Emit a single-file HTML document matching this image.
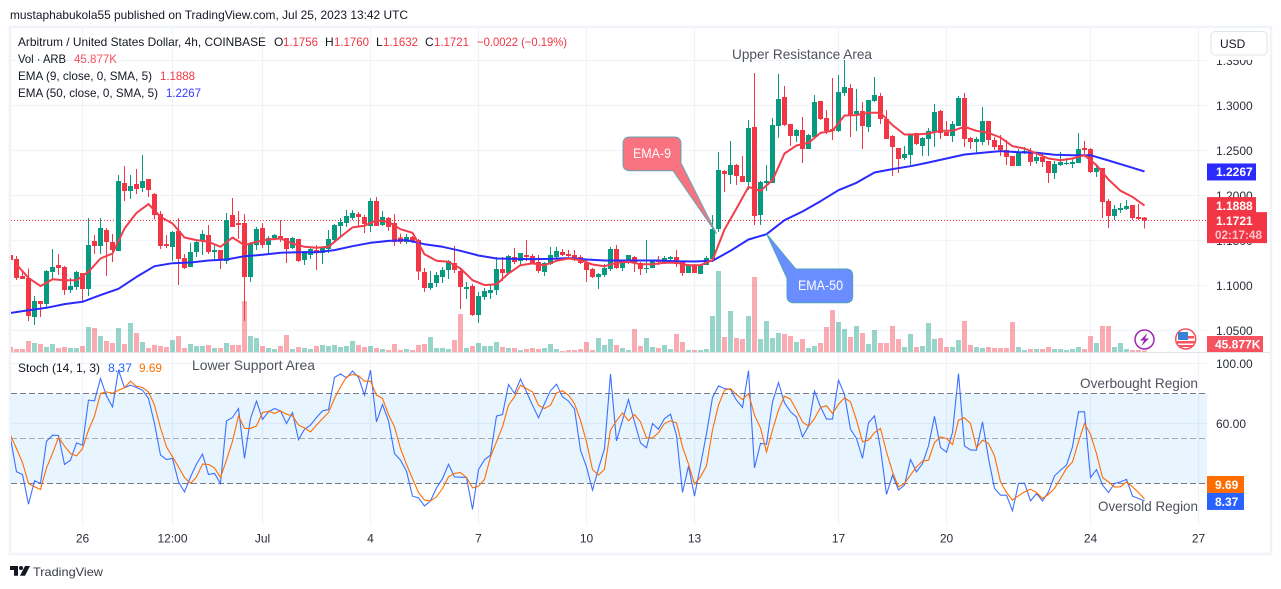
<!DOCTYPE html>
<html lang="en">
<head>
<meta charset="utf-8">
<title>Arbitrum / USD chart</title>
<style>
html,body{margin:0;padding:0;background:#fff;width:1281px;height:589px;overflow:hidden}
svg{display:block;font-family:"Liberation Sans",sans-serif}
text{font-size:12px;fill:#131722}
.note{font-size:14px;fill:#50535e}
.ax{fill:#2a2e39}
.lab{fill:#fff;font-weight:bold}
</style>
</head>
<body>
<svg id="chart" width="1281" height="589" viewBox="0 0 1281 589" xmlns="http://www.w3.org/2000/svg">
  <defs>
    <clipPath id="pricePaneClip"><rect x="11" y="28" width="1196" height="324"/></clipPath>
    <clipPath id="stochPaneClip"><rect x="11" y="353" width="1196" height="173"/></clipPath>
  </defs>
  <text x="10" y="19" textLength="398" lengthAdjust="spacingAndGlyphs">mustaphabukola55 published on TradingView.com, Jul 25, 2023 13:42 UTC</text>
  <rect x="10" y="27" width="1261" height="527" fill="none" stroke="#f0f3fa" stroke-width="2.5"/>
  <g id="gridLayer"></g>
  <g>
    <rect x="11" y="393.5" width="1196" height="90" fill="#2196f3" fill-opacity="0.1"/>
    <line x1="11" x2="1207" y1="393.5" y2="393.5" stroke="#787b86" stroke-dasharray="6 3"/>
    <line x1="11" x2="1207" y1="438.5" y2="438.5" stroke="#a8abb5" stroke-dasharray="6 3"/>
    <line x1="11" x2="1207" y1="483.5" y2="483.5" stroke="#787b86" stroke-dasharray="6 3"/>
  </g>
  <g id="volumeLayer" clip-path="url(#pricePaneClip)" shape-rendering="crispEdges"></g>
  <line x1="11" x2="1207" y1="220.5" y2="220.5" stroke="#f23645" stroke-dasharray="1 2"/>
  <g id="candleLayer" clip-path="url(#pricePaneClip)" shape-rendering="crispEdges"></g>
  <g id="emaLayer" clip-path="url(#pricePaneClip)"></g>
  <g id="stochLayer" clip-path="url(#stochPaneClip)"></g>
  <line x1="11" x2="1270" y1="352.5" y2="352.5" stroke="#e0e3eb"/>

  <g id="priceAxis"></g>
  <g id="stochAxis"></g>
  <g id="timeAxis"></g>

  <g>
    <path d="M630 137 H674 Q681 137 681 144 V163 L716.7 234 L673 170.7 H630 Q623 170.7 623 164 V144 Q623 137 630 137 Z" fill="#f8737f" stroke="#62a6b5" stroke-width="1"/>
    <text x="633" y="158" textLength="38" lengthAdjust="spacingAndGlyphs" style="font-size:14px;fill:#fff">EMA-9</text>
  </g>
  <g>
    <path d="M795.7 269 H846 Q852.7 269 852.7 276 V296 Q852.7 302.7 846 302.7 H794 Q787 302.7 787 296 V278.3 L766.7 234 Z" fill="#6a8dff" stroke="#4da2bf" stroke-width="1"/>
    <text x="798" y="290" textLength="45" lengthAdjust="spacingAndGlyphs" style="font-size:14px;fill:#fff">EMA-50</text>
  </g>

  <text class="note" x="732" y="59" textLength="140" lengthAdjust="spacingAndGlyphs">Upper Resistance Area</text>
  <text class="note" x="192" y="370" textLength="123" lengthAdjust="spacingAndGlyphs">Lower Support Area</text>
  <text class="note" x="1080" y="388" textLength="118" lengthAdjust="spacingAndGlyphs">Overbought Region</text>
  <text class="note" x="1098" y="511" textLength="100" lengthAdjust="spacingAndGlyphs">Oversold Region</text>

  <g>
    <text x="18" y="46" textLength="248" lengthAdjust="spacingAndGlyphs">Arbitrum / United States Dollar, 4h, COINBASE</text>
    <text x="274" y="46">O</text>
    <text x="283" y="46" textLength="35" lengthAdjust="spacingAndGlyphs" style="fill:#f23645">1.1756</text>
    <text x="325" y="46">H</text>
    <text x="334" y="46" textLength="35" lengthAdjust="spacingAndGlyphs" style="fill:#f23645">1.1760</text>
    <text x="376" y="46">L</text>
    <text x="383" y="46" textLength="35" lengthAdjust="spacingAndGlyphs" style="fill:#f23645">1.1632</text>
    <text x="425" y="46">C</text>
    <text x="434" y="46" textLength="35" lengthAdjust="spacingAndGlyphs" style="fill:#f23645">1.1721</text>
    <text x="477" y="46" textLength="90" lengthAdjust="spacingAndGlyphs" style="fill:#f23645">−0.0022 (−0.19%)</text>
    <text x="18" y="63" textLength="48" lengthAdjust="spacingAndGlyphs">Vol · ARB</text>
    <text x="74" y="63" textLength="43" lengthAdjust="spacingAndGlyphs" style="fill:#f7525f">45.877K</text>
    <text x="18" y="80" textLength="134" lengthAdjust="spacingAndGlyphs">EMA (9, close, 0, SMA, 5)</text>
    <text x="160" y="80" textLength="35" lengthAdjust="spacingAndGlyphs" style="fill:#f23645">1.1888</text>
    <text x="18" y="97" textLength="140" lengthAdjust="spacingAndGlyphs">EMA (50, close, 0, SMA, 5)</text>
    <text x="166" y="97" textLength="35" lengthAdjust="spacingAndGlyphs" style="fill:#3838ff">1.2267</text>
  </g>
  <g>
    <text x="18" y="372" textLength="82" lengthAdjust="spacingAndGlyphs">Stoch (14, 1, 3)</text>
    <text x="108" y="372" textLength="24" lengthAdjust="spacingAndGlyphs" style="fill:#2962ff">8.37</text>
    <text x="139" y="372" textLength="23" lengthAdjust="spacingAndGlyphs" style="fill:#ff6d00">9.69</text>
  </g>

  <rect x="1208" y="28" width="61" height="32" fill="#fff"/>
  <g>
    <rect x="1211" y="31.5" width="56" height="23.5" rx="4" fill="#fff" stroke="#e0e3eb"/>
    <text x="1220" y="48">USD</text>
  </g>

  <g>
    <circle cx="1144.5" cy="339.5" r="9.5" fill="#fff" stroke="#9c27b0" stroke-width="1.5"/>
    <path d="M1147.5 333 L1140 340.5 H1144 L1141.5 346 L1149 338.5 H1145 Z" fill="#9c27b0"/>
  </g>
  <g>
    <circle cx="1185.7" cy="339" r="10" fill="#fff" stroke="#f7525f" stroke-width="1.5"/>
    <rect x="1178" y="336" width="16" height="2.5" fill="#f7525f"/>
    <rect x="1177" y="341" width="18" height="2.5" fill="#f7525f"/>
    <rect x="1179" y="345" width="14" height="2" fill="#f7525f"/>
    <rect x="1178" y="332" width="10" height="8" fill="#3b82d6"/>
  </g>

  <g>
    <path d="M10 566 H18 V575.7 H14 V570 H10 Z M25 566 H30 L25 575.7 H20 Z" fill="#131722"/>
    <circle cx="21" cy="568" r="2" fill="#131722"/>
    <text x="33" y="576" textLength="70" lengthAdjust="spacingAndGlyphs" style="fill:#3a3d47">TradingView</text>
  </g>
</svg>
<script>
const priceTicks = [1.35, 1.30, 1.25, 1.20, 1.15, 1.10, 1.05];
const stochTicks = [100, 60];
const timeTickBars = [12, 27, 42, 60, 78, 96, 114, 138, 156, 180, 198];
const timeTickLabels = ["26", "12:00", "Jul", "4", "7", "10", "13", "17", "20", "24", "27"];

const opens = [
1.1337,1.1293,1.1104,1.1085,1.0652,1.0826,1.0796,1.1148,1.1226,1.1204,
1.0948,1.0982,1.1137,1.0959,1.1493,1.1437,1.1615,1.1482,1.1382,1.2137,
1.2048,1.2126,1.2082,1.2182,1.2015,1.1793,1.1459,1.1426,1.1604,1.1304,
1.1204,1.1370,1.1493,1.1559,1.1370,1.1393,1.1274,1.1782,1.1693,1.1693,
1.1093,1.1448,1.1637,1.1448,1.1526,1.1548,1.1526,1.1415,1.1515,1.1282,
1.1337,1.1393,1.1359,1.1404,1.1504,1.1659,1.1693,1.1748,1.1793,1.1759,
1.1659,1.1937,1.1670,1.1748,1.1693,1.1533,1.1482,1.1537,1.1504,1.1148,
1.0970,1.1026,1.1093,1.1170,1.1248,1.1159,1.0959,1.0993,1.0670,1.0870,
1.0915,1.0948,1.1182,1.1137,1.1315,1.1270,1.1337,1.1326,1.1259,1.1148,
1.1237,1.1315,1.1370,1.1348,1.1337,1.1315,1.1248,1.1182,1.1093,1.1115,
1.1182,1.1404,1.1193,1.1248,1.1315,1.1248,1.1193,1.1193,1.1282,1.1248,
1.1293,1.1315,1.1259,1.1137,1.1226,1.1126,1.1226,1.1293,1.1626,1.2270,
1.2226,1.2337,1.2215,1.2148,1.2759,1.1782,1.2137,1.2137,1.2770,1.3093,
1.2793,1.2659,1.2726,1.2515,1.2648,1.3048,1.2859,1.2737,1.2715,1.3137,
1.3193,1.2904,1.2937,1.2759,1.3048,1.3104,1.2848,1.2659,1.2526,1.2415,
1.2448,1.2693,1.2548,1.2626,1.2704,1.2937,1.2704,1.2659,1.2770,1.3082,
1.2637,1.2593,1.2593,1.2826,1.2615,1.2559,1.2504,1.2437,1.2326,1.2470,
1.2492,1.2381,1.2426,1.2381,1.2248,1.2337,1.2352,1.2348,1.2359,1.2526,
1.2515,1.2259,1.2304,1.1937,1.1770,1.1837,1.1848,1.1892,1.1759,1.1756];
const highs = [
1.1356,1.1326,1.1163,1.1189,1.0882,1.0826,1.1170,1.1404,1.1348,1.1215,
1.1082,1.1159,1.1137,1.1748,1.1559,1.1748,1.1637,1.1570,1.2226,1.2326,
1.2226,1.2293,1.2448,1.2182,1.2026,1.1826,1.1559,1.1604,1.1748,1.1348,
1.1470,1.1504,1.1615,1.1670,1.1448,1.1393,1.1804,1.1970,1.1826,1.1793,
1.1482,1.1648,1.1693,1.1548,1.1570,1.1726,1.1526,1.1537,1.1515,1.1382,
1.1415,1.1448,1.1426,1.1615,1.1682,1.1748,1.1837,1.1837,1.1815,1.1782,
1.1970,1.1982,1.1826,1.1759,1.1793,1.1578,1.1570,1.1548,1.1515,1.1193,
1.1159,1.1148,1.1204,1.1282,1.1437,1.1182,1.1037,1.1015,1.0926,1.0970,
1.1004,1.1315,1.1315,1.1337,1.1415,1.1359,1.1504,1.1348,1.1337,1.1259,
1.1426,1.1426,1.1404,1.1393,1.1393,1.1337,1.1282,1.1193,1.1137,1.1237,
1.1426,1.1448,1.1270,1.1337,1.1326,1.1259,1.1504,1.1282,1.1326,1.1326,
1.1326,1.1393,1.1270,1.1237,1.1237,1.1237,1.1326,1.1782,1.2482,1.2282,
1.2604,1.2348,1.2437,1.2837,1.3359,1.2159,1.2337,1.2859,1.3348,1.3215,
1.2793,1.2737,1.2870,1.2682,1.3115,1.3048,1.2948,1.3304,1.3337,1.3504,
1.3237,1.3182,1.3037,1.3059,1.3315,1.3137,1.2948,1.2670,1.2526,1.2548,
1.2682,1.2693,1.2648,1.2748,1.3015,1.2948,1.2826,1.2826,1.3104,1.3137,
1.2648,1.2648,1.2982,1.2826,1.2648,1.2670,1.2615,1.2437,1.2515,1.2537,
1.2526,1.2470,1.2470,1.2381,1.2381,1.2481,1.2415,1.2404,1.2692,1.2604,
1.2526,1.2337,1.2304,1.1959,1.1892,1.1915,1.1948,1.1892,1.1904,1.1760];
const lows = [
1.1141,1.1059,1.1070,1.0607,1.0563,1.0652,1.0745,1.1078,1.1115,1.0893,
1.0919,1.0948,1.0819,1.0885,1.1348,1.1348,1.1104,1.1263,1.1382,1.1937,
1.1959,1.2015,1.2037,1.1985,1.1733,1.1404,1.1415,1.1270,1.1004,1.1182,
1.1204,1.1315,1.1337,1.1348,1.1282,1.1182,1.1237,1.1648,1.1515,1.0604,
1.1037,1.1393,1.1415,1.1337,1.1504,1.1482,1.1248,1.1404,1.1259,1.1226,
1.1293,1.1170,1.1237,1.1359,1.1493,1.1548,1.1648,1.1726,1.1648,1.1582,
1.1593,1.1659,1.1659,1.1604,1.1437,1.1459,1.1459,1.1470,1.1059,1.0926,
1.0948,1.0982,1.1026,1.1070,1.1137,1.0737,1.0848,1.0659,1.0582,1.0837,
1.0848,1.0893,1.1048,1.1137,1.1237,1.1226,1.1270,1.1237,1.1137,1.1104,
1.1226,1.1282,1.1326,1.1315,1.1270,1.1237,1.1037,1.1082,1.0959,1.1093,
1.1159,1.1182,1.1159,1.1237,1.1148,1.1115,1.1137,1.1193,1.1226,1.1237,
1.1248,1.1204,1.1104,1.1137,1.1137,1.1126,1.1226,1.1259,1.1593,1.2037,
1.2126,1.2115,1.2148,1.2059,1.1670,1.1670,1.2048,1.2137,1.2637,1.2770,
1.2548,1.2593,1.2359,1.2515,1.2637,1.2837,1.2682,1.2615,1.2704,1.3104,
1.2648,1.2715,1.2515,1.2704,1.3037,1.2793,1.2626,1.2215,1.2248,1.2393,
1.2337,1.2559,1.2437,1.2437,1.2537,1.2626,1.2659,1.2593,1.2770,1.2537,
1.2515,1.2470,1.2559,1.2559,1.2504,1.2437,1.2337,1.2326,1.2326,1.2459,
1.2326,1.2348,1.2315,1.2137,1.2181,1.2326,1.2337,1.2304,1.2359,1.2426,
1.2248,1.2204,1.1748,1.1637,1.1726,1.1804,1.1837,1.1726,1.1726,1.1632];
const closes = [
1.1282,1.1085,1.1070,1.0663,1.0826,1.0796,1.1159,1.1204,1.1196,1.0948,
1.0993,1.1148,1.0959,1.1448,1.1437,1.1637,1.1482,1.1393,1.2159,1.2048,
1.2104,1.2070,1.2159,1.2059,1.1782,1.1437,1.1437,1.1593,1.1293,1.1193,
1.1370,1.1482,1.1570,1.1370,1.1393,1.1282,1.1726,1.1648,1.1670,1.1093,
1.1470,1.1626,1.1448,1.1526,1.1559,1.1515,1.1404,1.1526,1.1270,1.1382,
1.1404,1.1370,1.1426,1.1515,1.1670,1.1704,1.1770,1.1804,1.1759,1.1682,
1.1937,1.1659,1.1759,1.1648,1.1482,1.1482,1.1537,1.1493,1.1156,1.0970,
1.1026,1.1115,1.1170,1.1270,1.1170,1.0982,1.0982,1.0670,1.0882,1.0937,
1.0948,1.1182,1.1137,1.1326,1.1259,1.1359,1.1315,1.1248,1.1159,1.1248,
1.1337,1.1382,1.1337,1.1326,1.1282,1.1248,1.1170,1.1093,1.1126,1.1193,
1.1404,1.1193,1.1259,1.1337,1.1248,1.1182,1.1196,1.1282,1.1259,1.1304,
1.1315,1.1237,1.1137,1.1226,1.1137,1.1226,1.1304,1.1626,1.2282,1.2237,
1.2337,1.2215,1.2148,1.2748,1.1770,1.2148,1.2159,1.2782,1.3070,1.2782,
1.2659,1.2726,1.2515,1.2670,1.3037,1.2848,1.2715,1.2715,1.3148,1.3204,
1.2893,1.2937,1.2770,1.3059,1.3115,1.2848,1.2626,1.2537,1.2404,1.2459,
1.2682,1.2570,1.2637,1.2715,1.2926,1.2693,1.2659,1.2793,1.3082,1.2626,
1.2593,1.2626,1.2826,1.2615,1.2537,1.2504,1.2426,1.2326,1.2481,1.2492,
1.2370,1.2426,1.2370,1.2248,1.2348,1.2370,1.2363,1.2370,1.2515,1.2504,
1.2259,1.2304,1.1926,1.1770,1.1848,1.1859,1.1881,1.1748,1.1737,1.1721];
const volumesK = [
150,90,90,330,270,240,150,240,120,150,
120,120,180,750,720,480,330,270,720,240,
870,570,300,120,210,180,150,360,480,120,
240,180,180,210,120,120,270,210,210,1530,
480,420,180,120,90,180,510,90,150,120,
90,180,210,180,210,150,180,330,210,150,
180,120,90,60,240,60,90,60,210,240,
450,120,120,90,360,1140,120,180,270,180,
180,300,150,120,120,60,90,120,90,120,
240,90,30,60,60,90,300,60,420,210,
390,210,120,60,690,180,420,150,120,210,
90,540,300,60,60,60,90,1080,2430,450,
1230,420,390,1080,2250,390,930,420,570,540,
480,300,390,120,180,270,750,1260,900,690,
450,780,570,240,660,270,270,780,390,150,
540,150,180,870,390,420,150,150,360,930,
210,150,120,150,120,120,120,900,150,60,
90,90,90,150,90,90,60,90,150,90,
480,270,780,780,150,270,90,60,60,45.877];

const ema9EveryOtherBar = [
1.1233,1.1085,1.0993,1.1070,1.1059,1.1059,1.1152,1.1300,1.1356,1.1633,
1.1807,1.1904,1.1763,1.1689,1.1533,1.1504,1.1485,1.1430,1.1533,1.1448,
1.1485,1.1511,1.1522,1.1467,1.1430,1.1419,1.1430,1.1541,1.1645,1.1663,
1.1726,1.1707,1.1626,1.1585,1.1348,1.1274,1.1263,1.1189,1.1059,1.1004,
1.1015,1.1133,1.1226,1.1245,1.1226,1.1274,1.1300,1.1282,1.1233,1.1215,
1.1252,1.1263,1.1237,1.1237,1.1252,1.1252,1.1226,1.1226,1.1282,1.1622,
1.1856,1.2096,1.2052,1.2170,1.2467,1.2556,1.2585,1.2696,1.2719,1.2889,
1.2893,1.2919,1.2919,1.2782,1.2678,1.2678,1.2689,1.2719,1.2719,1.2763,
1.2719,1.2696,1.2644,1.2548,1.2522,1.2467,1.2411,1.2392,1.2411,1.2448,
1.2337,1.2178,1.2052,1.1985,1.1888];
const ema50EveryThirdBar = [
1.0696,1.0726,1.0752,1.0793,1.0819,1.0893,1.0963,1.1096,1.1215,1.1248,
1.1256,1.1278,1.1289,1.1326,1.1341,1.1363,1.1370,1.1370,1.1393,1.1437,
1.1474,1.1496,1.1504,1.1459,1.1430,1.1385,1.1333,1.1300,1.1296,1.1293,
1.1296,1.1304,1.1289,1.1278,1.1278,1.1278,1.1278,1.1270,1.1267,1.1274,
1.1385,1.1511,1.1570,1.1726,1.1822,1.1937,1.2059,1.2141,1.2256,1.2293,
1.2326,1.2367,1.2411,1.2456,1.2474,1.2493,1.2481,1.2474,1.2452,1.2448,
1.2448,1.2389,1.2329,1.2267];

const stochK = [
50.0,27.8,26.0,6.2,21.8,20.0,48.2,52.2,52.0,32.7,
35.6,47.1,45.6,75.6,75.1,90.0,78.4,71.1,95.6,83.8,
85.6,84.0,82.2,76.7,60.0,38.9,36.0,36.7,21.1,14.4,
24.4,32.9,39.6,26.0,26.7,20.0,61.8,64.0,70.0,36.7,
63.3,74.9,62.7,67.8,70.0,68.4,60.0,67.3,49.3,56.2,
58.9,64.0,68.4,69.3,90.7,93.1,90.4,94.9,90.7,78.9,
95.6,61.1,72.7,61.8,40.0,35.6,28.2,11.6,10.4,5.1,
8.4,17.1,23.3,32.7,24.4,24.2,24.0,2.7,29.3,35.8,
38.9,64.9,66.0,86.0,80.0,89.6,81.1,72.2,63.8,73.3,
81.8,86.2,77.8,74.9,69.6,42.2,31.1,15.6,30.0,43.3,
92.9,48.4,62.2,76.0,61.1,47.1,43.8,60.0,56.2,63.3,
66.2,52.2,14.0,31.6,11.6,32.2,53.3,77.3,85.1,83.3,
82.7,75.6,70.7,95.3,30.4,46.7,46.2,74.4,87.3,73.8,
67.8,64.4,51.1,58.2,81.6,71.1,62.9,62.9,88.9,79.3,
56.2,50.0,36.7,60.4,65.1,43.3,12.7,25.6,15.6,18.9,
36.0,27.8,33.3,45.1,64.7,44.0,40.9,54.0,93.3,45.1,
42.4,42.2,61.1,36.7,16.7,12.2,12.2,1.8,20.0,20.2,
8.4,13.3,8.4,14.4,25.1,28.9,32.2,44.4,67.8,67.8,
24.0,29.3,18.9,14.0,20.0,21.1,22.7,11.6,10.0,8.37];
const stochD = [
52.2,43.3,34.0,20.0,17.8,16.0,30.4,40.0,50.7,44.9,
40.0,38.4,43.3,55.6,64.9,80.0,81.1,80.2,82.2,83.8,
88.2,84.7,84.0,81.1,72.2,57.1,44.4,37.8,31.1,24.0,
20.0,24.4,32.9,32.7,30.4,24.0,35.6,48.2,65.1,56.7,
56.7,58.4,67.3,68.2,66.7,68.4,66.2,65.1,58.9,57.1,
54.4,58.9,63.3,67.3,76.7,84.4,91.1,92.7,91.8,88.2,
88.2,78.9,76.7,66.0,57.8,43.3,32.7,23.3,14.0,8.9,
8.4,11.1,16.7,24.4,26.7,27.3,24.0,17.1,18.2,22.7,
37.8,47.8,57.8,72.2,77.8,85.6,83.3,81.1,72.2,70.0,
72.2,80.4,81.8,78.9,73.3,62.2,47.8,29.3,25.6,29.6,
55.6,61.8,67.1,61.8,66.0,61.1,50.4,50.4,53.8,60.0,
61.8,60.4,44.4,32.9,19.6,24.4,31.8,55.6,72.2,82.2,
83.3,79.3,76.0,80.0,65.6,57.1,41.1,55.6,68.9,78.2,
76.2,68.9,61.1,58.2,63.3,70.7,71.8,66.7,72.7,77.1,
74.4,62.2,47.8,48.9,54.0,56.7,41.1,27.8,17.8,20.0,
25.6,31.1,34.9,35.6,47.3,51.1,50.0,46.0,62.2,63.8,
60.0,43.8,48.9,46.7,38.4,21.1,14.0,8.9,11.8,14.4,
16.2,14.0,10.0,12.7,16.7,23.3,30.0,34.4,47.8,60.0,
52.7,40.0,24.0,21.1,17.6,17.8,21.1,17.8,14.0,9.69];

const lastEma50 = ema50EveryThirdBar[ema50EveryThirdBar.length - 1];
const lastEma9 = ema9EveryOtherBar[ema9EveryOtherBar.length - 1];
const lastClose = closes[closes.length - 1];
const lastVolume = volumesK[volumesK.length - 1];
const lastK = stochK[stochK.length - 1];
const lastD = stochD[stochD.length - 1];

const NS = "http://www.w3.org/2000/svg";
const GREEN = "#089981", RED = "#f23645";
function barX(i) { return 10.5 + 6 * i; }
function priceY(p) { return 105.5 + (1.3 - p) * 900; }
function volumeH(v) { return v / 30; }
function stochY(v) { return 483.5 + (20 - v) * 1.5; }
function make(tag, parentId, attrs, txt) {
  const el = document.createElementNS(NS, tag);
  for (const k in attrs) el.setAttribute(k, attrs[k]);
  if (txt !== undefined) el.textContent = txt;
  document.getElementById(parentId).appendChild(el);
  return el;
}

priceTicks.forEach(function (t) {
  const g = make("line", "gridLayer", { x1: 11, x2: 1207, y1: priceY(t), y2: priceY(t), stroke: "#f0f3fa", "stroke-width": 1.2 });
  
  
  const l = make("text", "priceAxis", { x: 1216, y: priceY(t) + 4.5, "class": "ax" }, t.toFixed(4));
  
  
});
stochTicks.forEach(function (t) {
  const g = make("line", "gridLayer", { x1: 11, x2: 1207, y1: stochY(t), y2: stochY(t), stroke: "#f0f3fa", "stroke-width": 1.2 });
  
  
  const l = make("text", "stochAxis", { x: 1216, y: stochY(t) + 4.5, "class": "ax" }, t.toFixed(2));
  
  
});
timeTickBars.forEach(function (b, n) {
  const g = make("line", "gridLayer", { x1: barX(b), x2: barX(b), y1: 28, y2: 526, stroke: "#f0f3fa", "stroke-width": 1.2 });
  
  
  const l = make("text", "timeAxis", { x: barX(b), y: 542.5, "text-anchor": "middle", "class": "ax" }, timeTickLabels[n]);
  
  
});

closes.forEach(function (c, i) {
  const o = opens[i], up = c >= o, col = up ? GREEN : RED, x = barX(i);
  const h = Math.max(1, volumeH(volumesK[i]));
  const v = make("rect", "volumeLayer", { x: x - 2.5, y: 352 - h, width: 5, height: h, fill: col, "fill-opacity": 0.42 });
  
  
  const w = make("rect", "candleLayer", { x: x - 0.5, y: priceY(highs[i]), width: 1, height: Math.max(1, priceY(lows[i]) - priceY(highs[i])), fill: col });
  
  
  const top = Math.min(priceY(o), priceY(c));
  const b = make("rect", "candleLayer", { x: x - 2.5, y: top, width: 5, height: Math.max(1, Math.abs(priceY(o) - priceY(c))), fill: col });
  
  
});

const ema50Pts = ema50EveryThirdBar.map(function (p, k) { return barX(k * 3) + "," + priceY(p).toFixed(1); }).join(" ");
const ema50Line = make("polyline", "emaLayer", { points: ema50Pts, fill: "none", stroke: "#2a2aff", "stroke-width": 2, "stroke-linejoin": "round" });


const ema9Pts = ema9EveryOtherBar.map(function (p, k) { return barX(1 + k * 2) + "," + priceY(p).toFixed(1); }).join(" ");
const ema9Line = make("polyline", "emaLayer", { points: ema9Pts, fill: "none", stroke: "#f23d4c", "stroke-width": 2, "stroke-linejoin": "round" });



const kPts = stochK.map(function (v, i) { return barX(i) + "," + stochY(v).toFixed(1); }).join(" ");
const kLine = make("polyline", "stochLayer", { points: kPts, fill: "none", stroke: "#2962ff", "stroke-width": 1.1, "stroke-opacity": 0.9 });


const dPts = stochD.map(function (v, i) { return barX(i) + "," + stochY(v).toFixed(1); }).join(" ");
const dLine = make("polyline", "stochLayer", { points: dPts, fill: "none", stroke: "#ff6d00", "stroke-width": 1.1 });



function badge(parent, name, x, y, w, h, fill, txt, tx, ty) {
  const r = make("rect", parent, { x: x, y: y, width: w, height: h, fill: fill });
  
  
  const t = make("text", parent, { x: tx, y: ty, "class": "lab" }, txt);
  
  
}
badge("priceAxis", "ema-50-price-label", 1207, priceY(lastEma50) - 8, 49, 17, "#2a2aff", lastEma50.toFixed(4), 1216, priceY(lastEma50) + 4.5);
badge("priceAxis", "ema-9-price-label", 1207, priceY(lastEma9) - 8.5, 49, 17, RED, lastEma9.toFixed(4), 1216, priceY(lastEma9) + 4.5);
badge("priceAxis", "last-price-label", 1207, priceY(lastClose) - 8.5, 60, 31, RED, lastClose.toFixed(4), 1216, priceY(lastClose) + 4.5);
const countdown = make("text", "priceAxis", { x: 1215, y: 239, textLength: 47, lengthAdjust: "spacingAndGlyphs", style: "fill:#fbc4c8;font-weight:bold" }, "02:17:48");


badge("priceAxis", "volume-label", 1207, 336, 56, 16, "#f7525f", lastVolume.toFixed(3) + "K", 1215, 348.5);
badge("stochAxis", "stoch-d-label", 1207, stochY(lastD) - 23, 37, 17, "#ff6d00", lastD.toFixed(2), 1215, stochY(lastD) - 10);
badge("stochAxis", "stoch-k-label", 1207, stochY(lastK) - 8, 37, 17, "#2962ff", lastK.toFixed(2), 1215, stochY(lastK) + 5);
</script>
</body>
</html>
